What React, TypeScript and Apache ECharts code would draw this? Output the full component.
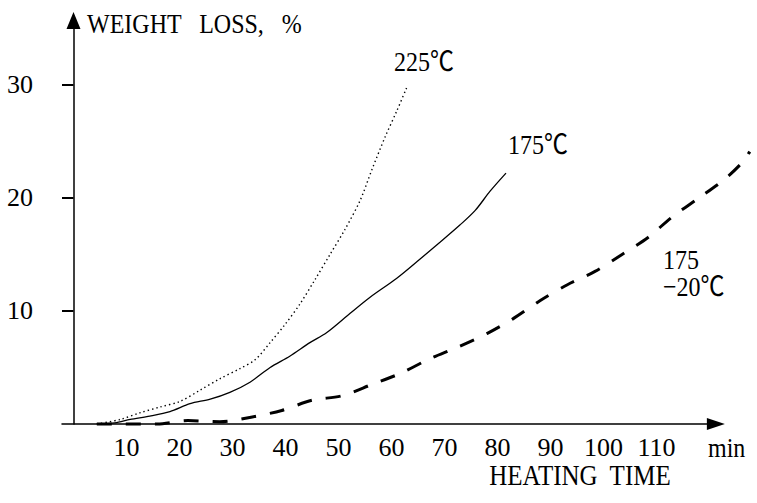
import React, { useEffect, useRef } from "react";
import * as echarts from "echarts";

// Axis tick labels
const timeTicks = [10, 20, 30, 40, 50, 60, 70, 80, 90, 100, 110];
const weightTicks = [10, 20, 30];

// 225 °C (dotted)
const time225 = [4.4, 8.8, 12.6, 16.3, 20.1, 23.9, 27.6, 31.4, 34.3, 37.1, 39.9, 42.7, 45.6, 48.4, 51.2, 54.1, 56.3, 58.8, 61.0, 62.9];
const loss225 = [0, 0.4, 1.0, 1.5, 2.0, 3.0, 4.0, 4.9, 5.7, 7.2, 8.8, 10.6, 12.8, 15.0, 17.2, 19.8, 22.5, 25.4, 27.7, 29.8];

// 175 °C (solid)
const time175 = [4.4, 7.8, 10.7, 14.4, 18.2, 22.0, 25.8, 29.5, 33.3, 37.1, 40.8, 44.6, 47.8, 52.2, 55.9, 61.0, 65.4, 69.2, 72.9, 75.8, 78.6, 81.6];
const loss175 = [0, 0.1, 0.4, 0.7, 1.1, 1.8, 2.2, 2.8, 3.7, 5.0, 6.0, 7.2, 8.1, 9.8, 11.2, 12.9, 14.6, 16.1, 17.6, 18.9, 20.6, 22.2];

// 175 -20 °C (dashed)
const time175m20 = [4.4, 9.7, 15.8, 21.6, 27.6, 33.5, 39.3, 45.0, 50.7, 56.3, 61.8, 66.9, 72.5, 78.0, 82.9, 88.0, 93.1, 98.4, 103.5, 108.4, 112.9, 118.0, 122.7, 126.1, 127.6];
const loss175m20 = [0, 0, 0, 0.3, 0.2, 0.6, 1.2, 2.1, 2.5, 3.5, 4.5, 5.7, 6.8, 8.0, 9.3, 10.9, 12.3, 13.5, 15.0, 16.5, 18.3, 20.0, 21.6, 23.1, 24.1];

const seriesNames = ["225℃", "175℃", "175 -20℃"];

const zip = (xs: number[], ys: number[]) => xs.map((x, i) => [x, ys[i]]);

const FONT = "'Liberation Serif', 'Noto Sans CJK KR', serif";

const CHART_W = 757;
const CHART_H = 503;
const GRID_LEFT = 62;
const X_MIN = -2.17;
const X_MAX = 121.2;
const Y_MAX = 35.7;
const PX_PER_MIN = 5.3;

export default function App() {
  const ref = useRef<HTMLDivElement>(null);

  useEffect(() => {
    document.body.style.margin = "0";
    if (!ref.current) return;
    const chart = echarts.init(ref.current, undefined, { renderer: "svg" });
    const textStyle = { fontFamily: FONT, fontSize: 24, fill: "#000" };
    const tall = { scaleY: 1.15 };
    const axisWidth = (X_MAX - X_MIN) * PX_PER_MIN;
    const dataWidth = CHART_W - GRID_LEFT;
    // same px-per-minute scale, extended to the chart's right edge for the curves
    const xMaxData = X_MIN + dataWidth / PX_PER_MIN;
    chart.setOption({
      animation: false,
      backgroundColor: "#fff",
      grid: [
        { left: GRID_LEFT, width: axisWidth, top: 20.5, bottom: 79, containLabel: false },
        { left: GRID_LEFT, width: dataWidth, top: 20.5, bottom: 79, containLabel: false },
      ],
      xAxis: [
        {
          type: "value",
          gridIndex: 0,
          min: X_MIN,
          max: X_MAX,
          splitLine: { show: false },
          axisLine: {
            show: true,
            symbol: ["none", "triangle"],
            symbolSize: [12, 18],
            lineStyle: { color: "#000", width: 1.5 },
          },
          axisTick: { show: false },
          axisLabel: {
            customValues: timeTicks,
            margin: 10,
            color: "#000",
            fontSize: 26,
            fontFamily: FONT,
          },
        },
        {
          type: "value",
          gridIndex: 1,
          min: X_MIN,
          max: xMaxData,
          show: false,
          splitLine: { show: false },
        },
      ],
      yAxis: [
        {
          type: "value",
          gridIndex: 0,
          min: 0,
          max: Y_MAX,
          splitLine: { show: false },
          axisLine: {
            show: true,
            symbol: ["none", "triangle"],
            symbolSize: [14, 17],
            lineStyle: { color: "#000", width: 1.5 },
          },
          axisTick: {
            show: true,
            customValues: weightTicks,
            length: 7,
            lineStyle: { color: "#000", width: 2 },
          },
          axisLabel: {
            customValues: weightTicks,
            margin: 29,
            color: "#000",
            fontSize: 26,
            fontFamily: FONT,
          },
        },
        {
          type: "value",
          gridIndex: 0,
          min: 0,
          max: Y_MAX,
          position: "left",
          splitLine: { show: false },
          axisLine: { show: false },
          axisLabel: { show: false },
          axisTick: {
            show: true,
            inside: true,
            customValues: weightTicks,
            length: 7,
            lineStyle: { color: "#000", width: 2 },
          },
        },
        {
          type: "value",
          gridIndex: 1,
          min: 0,
          max: Y_MAX,
          show: false,
          splitLine: { show: false },
        },
      ],
      series: [
        {
          name: seriesNames[0],
          type: "line",
          xAxisIndex: 1,
          yAxisIndex: 2,
          data: zip(time225, loss225),
          showSymbol: false,
          smooth: 0.3,
          lineStyle: { color: "#000", width: 1.4, type: [1.4, 3] },
        },
        {
          name: seriesNames[1],
          type: "line",
          xAxisIndex: 1,
          yAxisIndex: 2,
          data: zip(time175, loss175),
          showSymbol: false,
          smooth: 0.3,
          lineStyle: { color: "#000", width: 1.3, type: "solid" },
        },
        {
          name: seriesNames[2],
          type: "line",
          xAxisIndex: 1,
          yAxisIndex: 2,
          data: zip(time175m20, loss175m20),
          showSymbol: false,
          smooth: 0.3,
          clip: false,
          lineStyle: { color: "#000", width: 3, type: [15, 14] },
        },
      ],
      graphic: [
        { type: "text", x: 87, y: 24, ...tall, style: { ...textStyle, text: "WEIGHT   LOSS,   %", align: "left", verticalAlign: "middle" } },
        { type: "text", x: 580, y: 475, ...tall, style: { ...textStyle, fontSize: 25, text: "HEATING  TIME", align: "center", verticalAlign: "middle" } },
        { type: "text", x: 708, y: 448, ...tall, style: { ...textStyle, text: "min", align: "left", verticalAlign: "middle" } },
        { type: "text", x: 424, y: 62, ...tall, style: { ...textStyle, text: "225℃", align: "center", verticalAlign: "middle" } },
        { type: "text", x: 538, y: 145, ...tall, style: { ...textStyle, text: "175℃", align: "center", verticalAlign: "middle" } },
        { type: "text", x: 663, y: 260, ...tall, style: { ...textStyle, text: "175", align: "left", verticalAlign: "middle" } },
        { type: "text", x: 663, y: 287, ...tall, style: { ...textStyle, text: "−20℃", align: "left", verticalAlign: "middle" } },
      ],
    });
    return () => chart.dispose();
  }, []);

  return <div ref={ref} style={{ width: CHART_W, height: CHART_H }} />;
}
